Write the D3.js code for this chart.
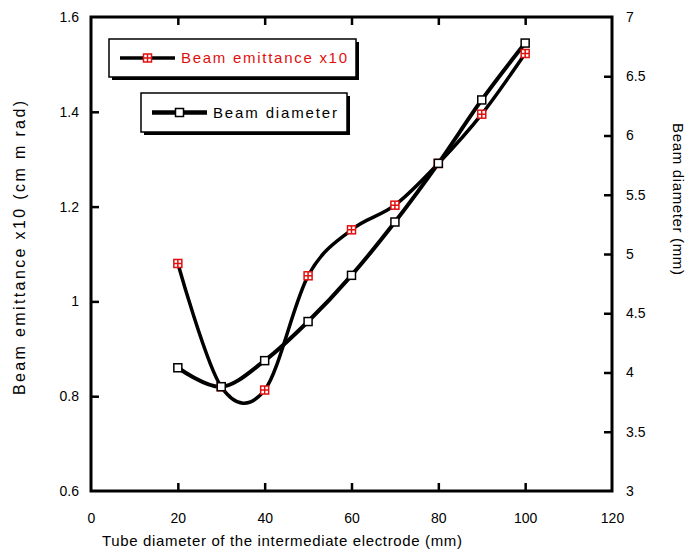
<!DOCTYPE html>
<html lang="en">
<head>
    <meta charset="utf-8">
    <title>Beam emittance and beam diameter</title>
    <style>
        body {
            margin: 0;
            background-color: #ffffff;
        }
        svg text {
            font-family: Arial, 'Liberation Sans', sans-serif;
        }
    </style>
    <script src="https://d3js.org/d3.v7.min.js" charset="utf-8"></script>
</head>
<body>
    <svg id="chart" width="688" height="554"></svg>

    <script type="text/javascript">
    // tube diameter of the intermediate electrode (mm)
    var tubeDiameter = [20, 30, 40, 50, 60, 70, 80, 90, 100]
    // beam emittance x10 (cm m rad), left axis; the point at 30 sits under the black marker
    var emittance = [1.08, 0.82, 0.813, 1.054, 1.151, 1.203, 1.291, 1.395, 1.523]
    // beam diameter (mm), right axis
    var beamDiameter = [4.04, 3.88, 4.10, 4.43, 4.82, 5.27, 5.765, 6.30, 6.78]

    var xTicks = [0, 20, 40, 60, 80, 100, 120]
    var yLeftTicks = [0.6, 0.8, 1, 1.2, 1.4, 1.6]
    var yRightTicks = [3, 3.5, 4, 4.5, 5, 5.5, 6, 6.5, 7]

    // plot box (window.top is read-only, so keep these names distinct)
    var pLeft = 91, pRight = 612, pTop = 17, pBottom = 491
    var svg = d3.select("#chart")

    var x = d3.scaleLinear().domain([0, 120]).range([pLeft, pRight])
    var yL = d3.scaleLinear().domain([0.6, 1.6]).range([pBottom, pTop])
    var yR = d3.scaleLinear().domain([3, 7]).range([pBottom, pTop])

    // frame with inward ticks on every side
    function frameAxis(axis, tr) {
      var g = svg.append("g")
        .attr("transform", tr)
        .call(axis)
      g.select(".domain").remove()
      g.selectAll(".tick line")
        .attr("stroke", "black")
        .attr("stroke-width", 2.5)
      g.selectAll(".tick text")
        .attr("fill", "black")
        .style("font-size", "14px")
      return g
    }

    var gx = frameAxis(d3.axisBottom(x).tickValues(xTicks).tickSize(-8).tickPadding(22).tickFormat(d3.format("d")),
      "translate(0," + pBottom + ")")
    gx.selectAll(".tick line").filter(function(d){ return d == 0 || d == 120 }).remove()

    var gt = frameAxis(d3.axisTop(x).tickValues(xTicks).tickSize(-8).tickFormat(""),
      "translate(0," + pTop + ")")
    gt.selectAll(".tick line").filter(function(d){ return d == 0 || d == 120 }).remove()

    var gl = frameAxis(d3.axisLeft(yL).tickValues(yLeftTicks).tickSize(-8).tickPadding(12).tickFormat(function(d){ return d == 1 ? "1" : d3.format(".1f")(d) }),
      "translate(" + pLeft + ",0)")
    gl.selectAll(".tick line").filter(function(d){ return d == 0.6 || d == 1.6 }).remove()

    var gr = frameAxis(d3.axisRight(yR).tickValues(yRightTicks).tickSize(-8).tickPadding(14).tickFormat(function(d){ return d % 1 == 0 ? d : d3.format(".1f")(d) }),
      "translate(" + pRight + ",0)")
    gr.selectAll(".tick line").filter(function(d){ return d == 3 || d == 7 }).remove()

    svg.append("rect")
      .attr("x", pLeft)
      .attr("y", pTop)
      .attr("width", pRight - pLeft)
      .attr("height", pBottom - pTop)
      .attr("fill", "none")
      .attr("stroke", "black")
      .attr("stroke-width", 3)

    // axis titles
    svg.append("text")
      .attr("x", 282)
      .attr("y", 546)
      .attr("text-anchor", "middle")
      .attr("textLength", 360)
      .attr("lengthAdjust", "spacing")
      .style("font-size", "15px")
      .text("Tube diameter of the intermediate electrode (mm)")

    svg.append("text")
      .attr("transform", "translate(25,248) rotate(-90)")
      .attr("text-anchor", "middle")
      .attr("textLength", 294)
      .attr("lengthAdjust", "spacing")
      .style("font-size", "16px")
      .text("Beam emittance x10 (cm m rad)")

    svg.append("text")
      .attr("transform", "translate(673,199) rotate(90)")
      .attr("text-anchor", "middle")
      .attr("textLength", 152)
      .attr("lengthAdjust", "spacing")
      .style("font-size", "15px")
      .text("Beam diameter (mm)")

    // lines
    var emitPts = tubeDiameter.map(function(d, i){ return [x(d), yL(emittance[i])] })
    var diaPts = tubeDiameter.map(function(d, i){ return [x(d), yR(beamDiameter[i])] })
    var line = d3.line().curve(d3.curveCardinal.tension(0))

    svg.append("path")
      .attr("d", line(emitPts))
      .attr("fill", "none")
      .attr("stroke", "black")
      .attr("stroke-width", 3.5)

    svg.append("path")
      .attr("d", line(diaPts))
      .attr("fill", "none")
      .attr("stroke", "black")
      .attr("stroke-width", 4)

    // markers
    function redMarker(g, cx, cy) {
      g.append("rect")
        .attr("x", cx - 4).attr("y", cy - 4)
        .attr("width", 8).attr("height", 8)
        .attr("fill", "white")
        .attr("stroke", "#e01010")
        .attr("stroke-width", 1.5)
      g.append("path")
        .attr("d", "M" + (cx - 4) + "," + cy + "H" + (cx + 4) + "M" + cx + "," + (cy - 4) + "V" + (cy + 4))
        .attr("stroke", "#e01010")
        .attr("stroke-width", 1.5)
    }
    function blackMarker(g, cx, cy) {
      g.append("rect")
        .attr("x", cx - 4).attr("y", cy - 4)
        .attr("width", 8).attr("height", 8)
        .attr("fill", "white")
        .attr("stroke", "black")
        .attr("stroke-width", 1.5)
    }

    var marks = svg.append("g")
    emitPts.forEach(function(p){ redMarker(marks, p[0], p[1]) })
    diaPts.forEach(function(p){ blackMarker(marks, p[0], p[1]) })

    // legend boxes with drop shadow
    function legendBox(bx, by, bw, bh, lx1, lx2, lw, label, textW, color, marker) {
      svg.append("rect")
        .attr("x", bx + 3).attr("y", by + 3)
        .attr("width", bw).attr("height", bh)
        .attr("fill", "black")
      svg.append("rect")
        .attr("x", bx).attr("y", by)
        .attr("width", bw).attr("height", bh)
        .attr("fill", "white")
        .attr("stroke", "black")
        .attr("stroke-width", 1.5)
      var cy = by + bh / 2
      svg.append("line")
        .attr("x1", lx1).attr("x2", lx2)
        .attr("y1", cy).attr("y2", cy)
        .attr("stroke", "black")
        .attr("stroke-width", lw)
      marker(svg, (lx1 + lx2) / 2, cy)
      svg.append("text")
        .attr("x", lx2 + 6)
        .attr("y", cy + 5)
        .attr("fill", color)
        .attr("textLength", textW)
        .attr("lengthAdjust", "spacing")
        .style("font-size", "15px")
        .text(label)
    }
    legendBox(109, 39, 247, 38, 120, 175, 3.5, "Beam emittance x10", 166, "#e01010", redMarker)
    legendBox(141, 93, 206, 39, 152, 207, 4.5, "Beam diameter", 124, "black", blackMarker)
    </script>
</body>
</html>
